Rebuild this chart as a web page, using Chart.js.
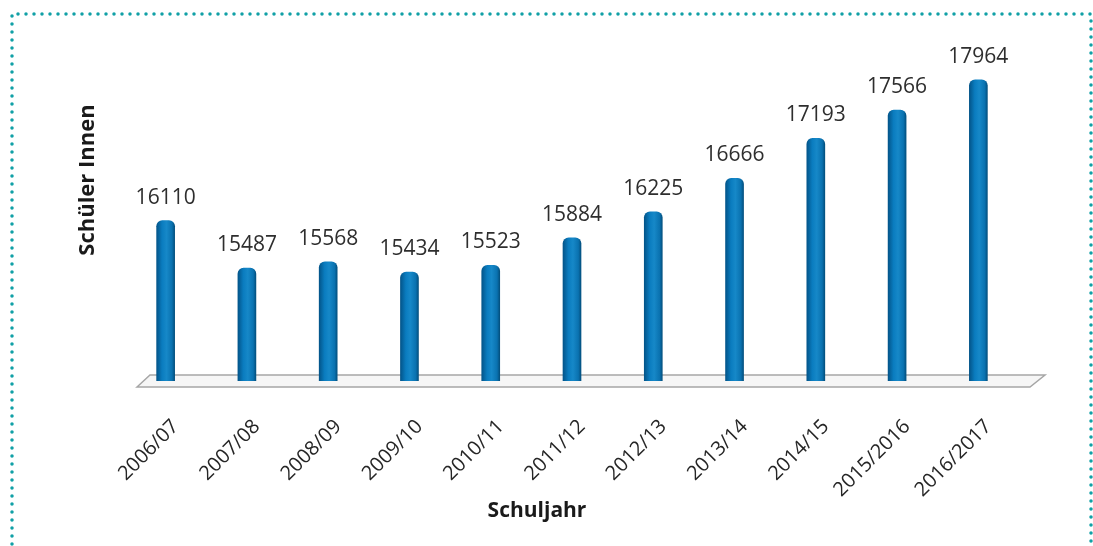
<!DOCTYPE html>
<html>
<head>
<meta charset="utf-8">
<script src="https://cdn.jsdelivr.net/npm/chart.js@4"></script>
<style>
    html, body { margin: 0; padding: 0; background: #ffffff; }
    #wrap { width: 1093px; height: 546px; }
</style>
</head>
<body>
<div id="wrap"><canvas id="schuelerChart" width="1093" height="546"></canvas></div>
<script>
        // Data
        const schuljahre = ['2006/07', '2007/08', '2008/09', '2009/10', '2010/11', '2011/12', '2012/13', '2013/14', '2014/15', '2015/2016', '2016/2017'];
        const schueler = [16110, 15487, 15568, 15434, 15523, 15884, 16225, 16666, 17193, 17566, 17964];
        const yMin = 14000;
        const yMax = 18000;

        // Dotted frame, 3D floor, value labels and axis titles
        const decoPlugin = {
            id: 'deco',
            beforeDatasetsDraw(chart) {
                const c = chart.ctx;
                const a = chart.chartArea;
                // frame
                c.save();
                c.strokeStyle = '#11a0a6';
                c.lineWidth = 3.5;
                c.lineCap = 'round';
                c.setLineDash([0, 8]);
                c.beginPath();
                c.moveTo(12, 560);
                c.lineTo(12, 14);
                c.lineTo(1091, 14);
                c.lineTo(1091, 560);
                c.stroke();
                c.restore();
                // floor
                c.save();
                c.fillStyle = '#f6f6f6';
                c.strokeStyle = '#a6a6a6';
                c.lineWidth = 1.5;
                c.beginPath();
                c.moveTo(a.left + 12, a.bottom + 6);
                c.lineTo(a.left + 25, a.bottom - 6);
                c.lineTo(a.right + 26, a.bottom - 6);
                c.lineTo(a.right + 11, a.bottom + 6);
                c.closePath();
                c.fill();
                c.stroke();
                c.restore();
            },
            afterDatasetsDraw(chart) {
                const c = chart.ctx;
                const meta = chart.getDatasetMeta(0);
                c.save();
                c.font = '21px "Open Sans"';
                c.fillStyle = '#2e2e2e';
                c.textAlign = 'center';
                c.textBaseline = 'middle';
                meta.data.forEach((bar, i) => {
                    c.fillText(String(schueler[i]), bar.x, bar.y - 23);
                });
                // axis titles
                c.font = 'bold 21px "Open Sans"';
                c.fillStyle = '#1a1a1a';
                c.fillText('Schuljahr', 537, 511);
                c.translate(88, 180);
                c.rotate(-Math.PI / 2);
                c.font = 'bold 22px "Open Sans"';
                c.fillText('Schüler Innen', 0, 0);
                c.restore();
            }
        };

        // cylinder-like shading across each bar
        function barGradient(context) {
            const chart = context.chart;
            const xs = chart.scales.x;
            if (!xs || !chart.chartArea) {
                return '#0a78b8';
            }
            const cx = xs.getPixelForValue(context.dataIndex);
            const g = chart.ctx.createLinearGradient(cx - 9, 0, cx + 9, 0);
            g.addColorStop(0, '#03558a');
            g.addColorStop(0.3, '#0a7cbf');
            g.addColorStop(0.55, '#1688c8');
            g.addColorStop(0.85, '#0a72b0');
            g.addColorStop(1, '#03507f');
            return g;
        }

        const ctx = document.getElementById('schuelerChart').getContext('2d');
        const schuelerChart = new Chart(ctx, {
            type: 'bar',
            data: {
                labels: schuljahre,
                datasets: [{
                    label: 'SchülerInnen',
                    data: schueler,
                    backgroundColor: barGradient,
                    borderWidth: 0,
                    borderRadius: 6,
                    borderSkipped: false,
                    barThickness: 18
                }]
            },
            plugins: [decoPlugin],
            options: {
                responsive: false,
                animation: false,
                layout: {
                    padding: { left: 125, right: 74, top: 77, bottom: 0 }
                },
                plugins: {
                    legend: { display: false },
                    tooltip: { enabled: false }
                },
                scales: {
                    x: {
                        grid: { display: false },
                        border: { display: false },
                        ticks: {
                            color: '#262626',
                            font: { family: 'Open Sans', size: 20 },
                            maxRotation: 45,
                            minRotation: 45,
                            padding: 26,
                            labelOffset: 10
                        },
                        afterFit(scale) {
                            scale.height = 165;
                        }
                    },
                    y: {
                        display: false,
                        min: yMin,
                        max: yMax
                    }
                }
            }
        });
</script>
</body>
</html>
